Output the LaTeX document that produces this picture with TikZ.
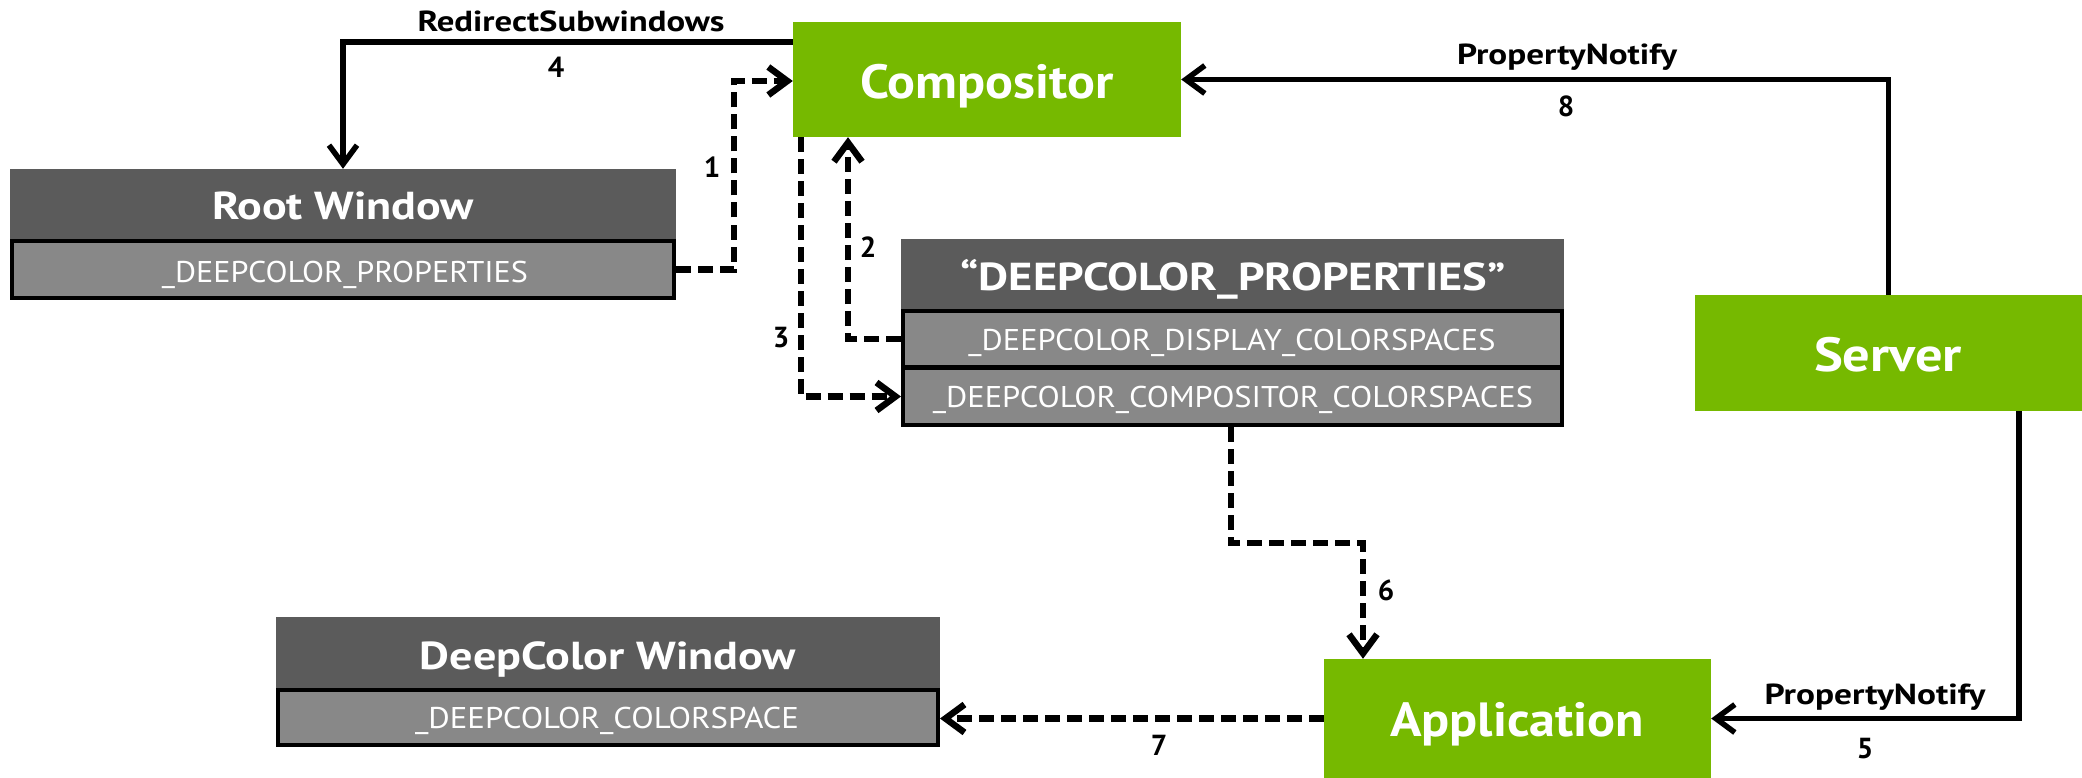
\documentclass[tikz,border=0pt]{standalone}
\usepackage{fontspec}
\setmainfont{PT Sans}
\usetikzlibrary{arrows.meta}
\definecolor{nvgreen}{HTML}{76B900}
\definecolor{hdrgray}{HTML}{5B5B5B}
\definecolor{rowgray}{HTML}{888888}
% scale a text horizontally to a given width, keeping its height
\newcommand\fitw[2]{\resizebox{#1}{\height}{#2}}

\begin{document}
\begin{tikzpicture}[x=1pt,y=-1pt,
  greenbox/.style={fill=nvgreen, inner sep=0pt},
  hdrbox/.style={fill=hdrgray, inner sep=0pt},
  rowbox/.style={fill=rowgray, draw=black, line width=4pt, inner sep=0pt},
  bigtext/.style={text=white, inner sep=0pt, anchor=base, font=\fontsize{48}{52}\selectfont\bfseries},
  titletext/.style={text=white, inner sep=0pt, anchor=base, font=\fontsize{39}{42}\selectfont\bfseries},
  rowtext/.style={text=white, inner sep=0pt, anchor=base, font=\fontsize{30}{32}\selectfont},
  lbl/.style={inner sep=0pt, anchor=base, font=\fontsize{29}{31}\selectfont\bfseries},
  link/.style={line width=5.5pt, -{Straight Barb[length=19pt,width=28pt]}},
  dlink/.style={link, line width=6.5pt, dash pattern=on 15pt off 7pt},
]
\useasboundingbox (0,0) rectangle (2082,778);

% process boxes
\node[greenbox, minimum width=388pt, minimum height=115pt] (comp) at (987,79.5) {};
\node[greenbox, minimum width=387pt, minimum height=116pt] (server) at (1888.5,353) {};
\node[greenbox, minimum width=387pt, minimum height=119pt] (app) at (1517.5,718.5) {};
\node[bigtext] (tcomp) at (987,99) {\fitw{253pt}{Compositor}};
\node[bigtext] (tserver) at (1888,371) {\fitw{148pt}{Server}};
\node[bigtext] (tapp) at (1517,736) {\fitw{254pt}{Application}};

% root window
\node[hdrbox, minimum width=666pt, minimum height=70pt] (root) at (343,204) {};
\node[rowbox, minimum width=662pt, minimum height=57pt] (rootprop) at (343,269.5) {};
\node[titletext] (troot) at (343,220) {\fitw{262pt}{Root Window}};
\node[rowtext] (trootprop) at (345,282) {\fitw{366pt}{\_DEEPCOLOR\_PROPERTIES}};

% property record
\node[hdrbox, minimum width=663pt, minimum height=72pt] (dp) at (1232.5,275) {};
\node[rowbox, minimum width=659pt, minimum height=56pt] (dpdisp) at (1232.5,339) {};
\node[rowbox, minimum width=659pt, minimum height=57pt] (dpcomp) at (1232.5,396.5) {};
\node[titletext] (tdp) at (1233,290) {\fitw{545pt}{“DEEPCOLOR\_PROPERTIES”}};
\node[rowtext] (tdpdisp) at (1232,350) {\fitw{527pt}{\_DEEPCOLOR\_DISPLAY\_COLORSPACES}};
\node[rowtext] (tdpcomp) at (1233,407) {\fitw{600pt}{\_DEEPCOLOR\_COMPOSITOR\_COLORSPACES}};

% deep colour window
\node[hdrbox, minimum width=664pt, minimum height=71pt] (dcw) at (608,652.5) {};
\node[rowbox, minimum width=660pt, minimum height=55pt] (dcwcs) at (608,717.5) {};
\node[titletext] (tdcw) at (608,669) {\fitw{376pt}{DeepColor Window}};
\node[rowtext] (tdcwcs) at (607,728) {\fitw{384pt}{\_DEEPCOLOR\_COLORSPACE}};

% bend points
\coordinate (b1) at (734,81);
\coordinate (b2) at (848,0);
\coordinate (b3) at (801,0);
\coordinate (b4) at (343,42);
\coordinate (b5) at (2019,0);
\coordinate (b6a) at (1231,543);
\coordinate (b6b) at (1363,543);

% connectors
\draw[dlink] (rootprop.east) -| (b1) -- (comp.west |- b1);
\draw[dlink] (dpdisp.west) -| (comp.south -| b2);
\draw[dlink] (comp.south -| b3) |- (dpcomp.west);
\draw[link] (comp.west |- b4) -| (root.north);
\draw[link] (server.north) |- (comp.east);
\draw[link] (server.south -| b5) |- (app.east);
\draw[dlink] (dpcomp.south -| b6a) -- (b6a) -- (b6b) -- (app.north -| b6b);
\draw[dlink] (app.west) -- (app.west -| dcwcs.east);

% connector labels
\node[lbl] (lredir) at (571,32) {\fitw{307pt}{RedirectSubwindows}};
\node[lbl] (lpn8) at (1567,65) {\fitw{220pt}{PropertyNotify}};
\node[lbl] (lpn5) at (1875,704) {\fitw{221pt}{PropertyNotify}};
\node[lbl] (n1) at (712,178) {1};
\node[lbl] (n2) at (868,257) {2};
\node[lbl] (n3) at (781,347) {3};
\node[lbl] (n4) at (556,78) {4};
\node[lbl] (n5) at (1865,758) {5};
\node[lbl] (n6) at (1386,600) {6};
\node[lbl] (n7) at (1159,755) {7};
\node[lbl] (n8) at (1566,117) {8};
\end{tikzpicture}
\end{document}
